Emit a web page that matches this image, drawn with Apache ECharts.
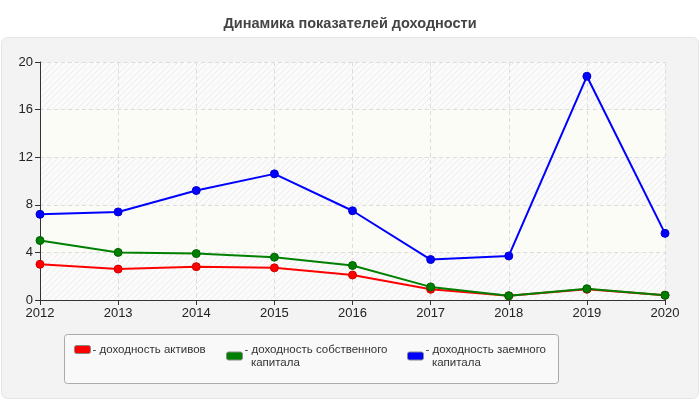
<!DOCTYPE html>
<html>
<head>
    <meta charset="UTF-8">
    <title>Динамика показателей доходности</title>
    <script src="https://cdn.jsdelivr.net/npm/echarts@6/dist/echarts.min.js"></script>
    <style>
        html, body { margin: 0; padding: 0; background: #fff; }
        #chart { width: 700px; height: 400px; }
    </style>
</head>
<body>
    <div id="chart"></div>

    <script>
        const years = ['2012', '2013', '2014', '2015', '2016', '2017', '2018', '2019', '2020'];
        const yTicks = [0, 4, 8, 12, 16, 20];

        const nameAssets = 'доходность активов';
        const nameEquity = 'доходность собственного\nкапитала';
        const nameDebt = 'доходность заемного\nкапитала';

        const assets = [3.0, 2.6, 2.8, 2.7, 2.1, 0.9, 0.35, 0.9, 0.4];
        const equity = [5.0, 4.0, 3.9, 3.6, 2.9, 1.1, 0.35, 0.95, 0.4];
        const debt = [7.2, 7.4, 9.2, 10.6, 7.5, 3.4, 3.7, 18.8, 5.6];

        const myChart = echarts.init(document.getElementById('chart'));

        // штриховка фона для светлых полос
        const hatch = document.createElement('canvas');
        hatch.width = 6; hatch.height = 6;
        const hc = hatch.getContext('2d');
        hc.fillStyle = '#fbfbfb';
        hc.fillRect(0, 0, 6, 6);
        hc.strokeStyle = '#ececec';
        hc.lineWidth = 1;
        hc.beginPath();
        hc.moveTo(0, 6); hc.lineTo(6, 0);
        hc.moveTo(-1, 1); hc.lineTo(1, -1);
        hc.moveTo(5, 7); hc.lineTo(7, 5);
        hc.stroke();

        // легенда: маркер + "- название", вторая строка с отступом
        function legendFor(name, left) {
            return {
                data: [name],
                left: left,
                top: 341,
                padding: 0,
                itemWidth: 16,
                itemHeight: 8,
                itemGap: 0,
                icon: 'roundRect',
                itemStyle: { borderColor: '#888', borderWidth: 1 },
                formatter: n => '- ' + n.replace('\n', '\n  '),
                textStyle: { fontFamily: 'Liberation Sans, Arial', fontSize: 11.5, color: '#333', lineHeight: 13, padding: [4, 0, 0, -3] },
                selectedMode: false
            };
        }

        function line(name, data, color, border) {
            return {
                name: name,
                type: 'line',
                data: data,
                symbol: 'circle',
                symbolSize: 8,
                lineStyle: { color: color, width: 2 },
                itemStyle: { color: color, borderColor: border, borderWidth: 1 },
                emphasis: { disabled: true },
                z: 3
            };
        }

        const option = {
            backgroundColor: '#fff',
            animation: false,
            title: {
                text: 'Динамика показателей доходности',
                left: 'center',
                top: 11,
                textStyle: { fontFamily: 'Liberation Sans, Arial', fontSize: 14.5, fontWeight: 'bold', color: '#444' }
            },
            graphic: [
                {
                    type: 'rect', z: -10,
                    shape: { x: 1.5, y: 37.5, width: 697, height: 361, r: 6 },
                    style: { fill: '#f3f3f3', stroke: '#e4e4e4', lineWidth: 1 }
                },
                {
                    type: 'rect', z: -5,
                    shape: { x: 64.5, y: 334.5, width: 494, height: 49, r: 3 },
                    style: { fill: '#f9f9f9', stroke: '#aaaaaa', lineWidth: 1 }
                }
            ],
            legend: [
                legendFor(nameAssets, 74),
                legendFor(nameEquity, 226),
                legendFor(nameDebt, 407)
            ],
            grid: { left: 40, right: 35, top: 62, bottom: 100 },
            xAxis: {
                type: 'category',
                data: years,
                boundaryGap: false,
                axisLine: { lineStyle: { color: '#333' } },
                axisTick: { show: true, length: 5, lineStyle: { color: '#333' } },
                axisLabel: { color: '#222', fontSize: 13, fontFamily: 'Liberation Sans, Arial', margin: 7 },
                splitLine: { show: true, lineStyle: { color: '#dddddd', type: [4, 3] } }
            },
            yAxis: {
                type: 'value',
                min: yTicks[0],
                max: yTicks[yTicks.length - 1],
                interval: 4,
                axisLine: { show: true, lineStyle: { color: '#333' } },
                axisTick: { show: true, length: 5, lineStyle: { color: '#333' } },
                axisLabel: { color: '#222', fontSize: 13, fontFamily: 'Liberation Sans, Arial', margin: 7 },
                splitLine: { show: true, lineStyle: { color: '#dddddd', type: [4, 3] } },
                splitArea: { show: true, areaStyle: { color: [{ image: hatch, repeat: 'repeat' }, '#fcfcf7'] } }
            },
            series: [
                line(nameAssets, assets, '#ff0000', '#cc0000'),
                line(nameEquity, equity, '#008000', '#006000'),
                line(nameDebt, debt, '#0000ff', '#0000cc')
            ]
        };

        myChart.setOption(option);
    </script>
</body>
</html>
